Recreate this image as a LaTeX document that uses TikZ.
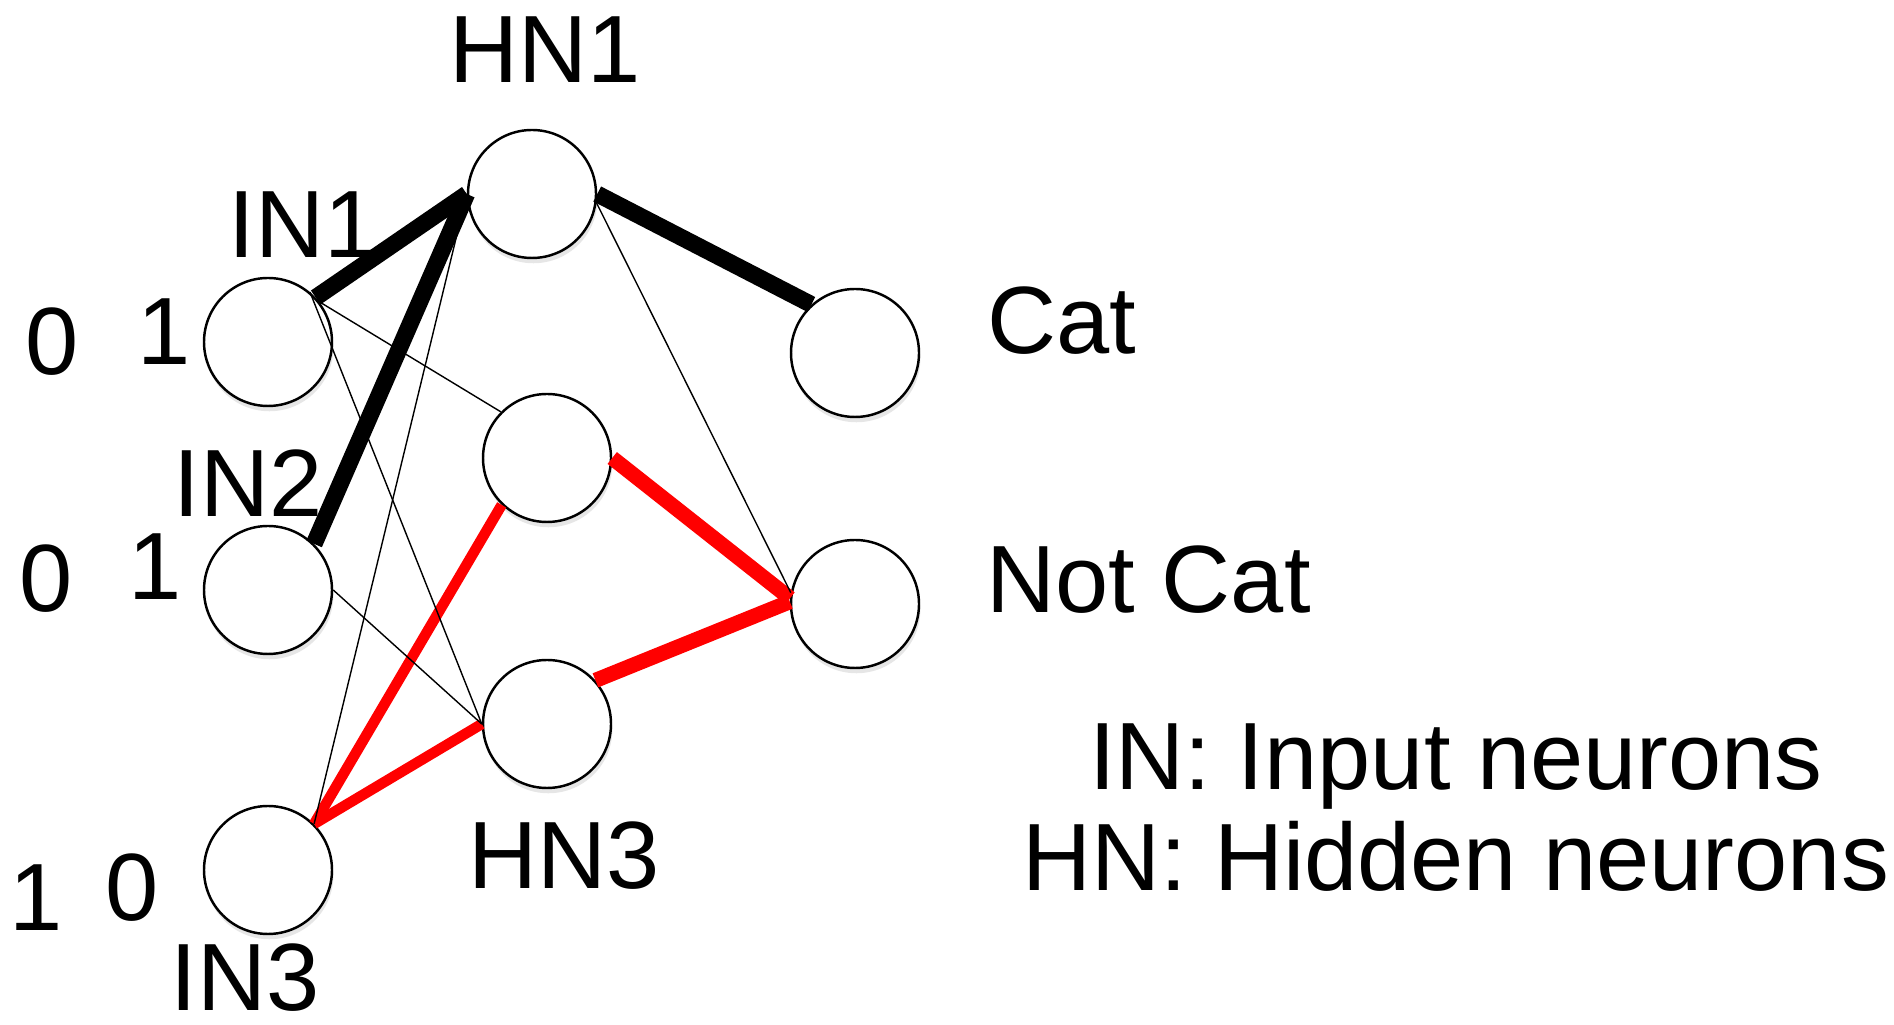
\documentclass[tikz,border=0pt]{standalone}
\usepackage{fontspec}
\setmainfont{Liberation Sans}
\usetikzlibrary{shadows}

\tikzset{
  neuron/.style={circle, draw, line width=0.7pt, fill=white, minimum size=1.28cm, inner sep=0pt,
    drop shadow={shadow xshift=0.4pt, shadow yshift=-1.5pt, opacity=0.2}},
  rotulo/.style={inner sep=0pt, font=\fontsize{27.2}{28.7}\selectfont},
  forte/.style={line width=4.8pt},
  fraco/.style={line width=0.4pt},
  vermelho/.style={red, line width=#1},
}

\begin{document}
\begin{tikzpicture}
    \useasboundingbox (0,0) rectangle (18.94,10.25);

    % Neurônios de entrada
    \node[neuron] (IN1) at (2.68,6.83) {};
    \node[neuron] (IN2) at (2.68,4.35) {};
    \node[neuron] (IN3) at (2.68,1.55) {};

    % Neurônios escondidos
    \node[neuron] (HN1) at (5.32,8.31) {};
    \node[neuron] (HN2) at (5.47,5.67) {};
    \node[neuron] (HN3) at (5.47,3.01) {};

    % Saídas
    \node[neuron] (Cat) at (8.55,6.72) {};
    \node[neuron] (NotCat) at (8.55,4.21) {};

    % Ligações fortes
    \draw[forte] (IN1.43) -- (HN1.west);
    \draw[forte] (IN2.45) -- (HN1.west);
    \draw[forte] (HN1.east) -- (Cat.132);

    % Ligações vermelhas
    \draw[vermelho=4.3pt] (HN2.east) -- (NotCat.175);
    \draw[vermelho=4.3pt] (HN3.42) -- (NotCat.178);
    \draw[vermelho=3pt] (IN3.45) -- (HN2.226);
    \draw[vermelho=3pt] (IN3.45) -- (HN3.west);

    % Ligações fracas
    \draw[fraco] (IN1.38) -- (HN2.135);
    \draw[fraco] (IN1.50) -- (HN3.west);
    \draw[fraco] (IN2.east) -- (HN3.west);
    \draw[fraco] (IN3.45) -- (HN1.west);
    \draw[fraco] (HN1.352) -- (NotCat.170);

    % Nomes dos neurônios
    \node[rotulo] (tIN1) at (3.03,8.00) {IN1};
    \node[rotulo] (tIN2) at (2.48,5.42) {IN2};
    \node[rotulo] (tIN3) at (2.45,0.47) {IN3};
    \node[rotulo] (tHN1) at (5.45,9.75) {HN1};
    \node[rotulo] (tHN3) at (5.64,1.69) {HN3};
    \node[rotulo, anchor=west] (tCat) at (9.87,7.04) {Cat};
    \node[rotulo, anchor=west] (tNotCat) at (9.86,4.45) {Not Cat};

    % Valores das entradas
    \node[rotulo] (vA1) at (0.52,6.83) {0};
    \node[rotulo] (vB1) at (1.64,6.93) {1};
    \node[rotulo] (vA2) at (0.46,4.46) {0};
    \node[rotulo] (vB2) at (1.55,4.58) {1};
    \node[rotulo] (vA3) at (0.36,1.27) {1};
    \node[rotulo] (vB3) at (1.32,1.37) {0};

    % Legenda
    \node[rotulo, align=center] (legenda) at (14.56,2.175)
        {IN: Input neurons\\HN: Hidden neurons};
\end{tikzpicture}
\end{document}
